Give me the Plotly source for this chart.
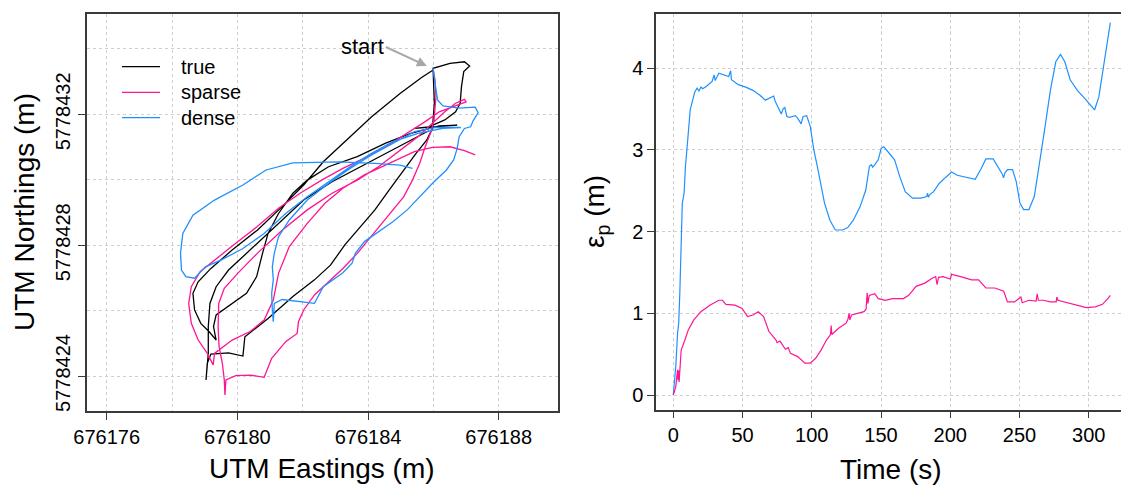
import plotly.graph_objects as go

# ---------------- data: left panel (UTM coordinates, m) ----------------
true_east = [676185.86, 676185.42, 676184.54, 676183.67, 676182.90, 676182.03, 676181.15, 676180.39, 676179.73, 676179.35,
             676179.16, 676179.11, 676179.11, 676179.04,
             676179.08, 676179.19, 676179.73, 676180.17, 676180.23, 676180.94, 676181.70, 676182.36, 676182.85, 676183.29,
             676183.72, 676184.21, 676184.65, 676185.09, 676185.47, 676185.80, 676185.97, 676186.03, 676186.00, 676185.99,
             676186.51, 676186.95, 676187.11, 676186.93, 676186.86, 676186.82, 676186.68, 676186.35, 676185.86, 676185.42,
             676186.73, 676186.18,
             676185.31, 676184.54, 676183.67, 676182.79, 676182.14, 676181.70, 676181.26, 676180.94, 676180.77, 676180.59,
             676180.28, 676179.79, 676179.35, 676179.27, 676179.35,
             676179.13, 676178.88, 676178.69, 676178.64, 676178.80, 676179.19, 676179.84, 676180.61, 676181.37, 676182.03,
             676182.63, 676183.29, 676184.11, 676184.98, 676185.64, 676185.97]
true_north = [5778431.50, 5778431.27, 5778430.79, 5778430.35, 5778429.94, 5778429.38, 5778428.57, 5778427.85, 5778427.24, 5778426.73,
              5778426.22, 5778425.51, 5778424.69, 5778423.88,
              5778424.39, 5778424.67, 5778424.71, 5778424.61, 5778425.20, 5778425.76, 5778426.43, 5778426.94, 5778427.39, 5778428.01,
              5778428.52, 5778429.08, 5778429.69, 5778430.30, 5778430.81, 5778431.22, 5778431.57, 5778432.34, 5778433.05, 5778433.41,
              5778433.56, 5778433.61, 5778433.48, 5778433.31, 5778432.85, 5778432.34, 5778432.08, 5778431.83, 5778431.62, 5778431.57,
              5778431.67, 5778431.65,
              5778431.42, 5778431.12, 5778430.71, 5778430.40, 5778429.99, 5778429.59, 5778428.97, 5778428.36, 5778427.75, 5778427.04,
              5778426.53, 5778426.17, 5778425.87, 5778425.51, 5778425.10,
              5778425.36, 5778425.61, 5778426.02, 5778426.53, 5778426.88, 5778427.29, 5778427.85, 5778428.46, 5778429.18, 5778429.84,
              5778430.55, 5778431.17, 5778431.93, 5778432.64, 5778433.13, 5778433.34]

sparse_east = [676185.99, 676186.05, 676186.08, 676186.02, 676185.91, 676185.75, 676185.58, 676185.36, 676185.09, 676184.76,
               676184.43, 676184.11, 676183.67, 676183.23, 676182.79, 676182.36, 676182.03, 676181.87, 676181.83, 676181.48,
               676181.05, 676180.82, 676180.39, 676179.95, 676179.65, 676179.62,
               676179.60, 676179.54, 676179.44, 676179.41, 676179.43, 676179.60, 676180.01, 676180.61, 676181.37, 676182.14,
               676182.90, 676183.67, 676184.32, 676184.98, 676185.53, 676185.97, 676186.35, 676186.68, 676186.95, 676187.00,
               676186.62,
               676186.18, 676185.75, 676185.20, 676184.54, 676183.89, 676183.23, 676182.58, 676181.92, 676181.26, 676180.61,
               676179.95, 676179.30, 676178.86, 676178.59, 676178.51, 676178.59, 676178.80, 676179.08, 676179.26,
               676179.30, 676179.84, 676180.39, 676180.82, 676181.10, 676181.26, 676181.59, 676182.14, 676182.68, 676183.23,
               676183.89, 676184.65, 676185.42, 676185.97, 676186.51, 676186.95, 676187.28]
sparse_north = [5778433.41, 5778433.05, 5778432.54, 5778431.83, 5778431.42, 5778431.01, 5778430.50, 5778429.99, 5778429.48, 5778429.08,
                5778428.67, 5778428.26, 5778427.75, 5778427.29, 5778426.88, 5778426.48, 5778426.02, 5778425.66, 5778425.30, 5778425.05,
                5778424.54, 5778423.96, 5778424.03, 5778424.01, 5778423.88, 5778423.42,
                5778423.88, 5778424.39, 5778424.90, 5778425.51, 5778426.22, 5778426.68, 5778427.14, 5778427.75, 5778428.46, 5778429.08,
                5778429.59, 5778429.99, 5778430.40, 5778430.91, 5778431.32, 5778431.73, 5778432.08, 5778432.34, 5778432.46, 5778432.38,
                5778432.24,
                5778432.08, 5778431.78, 5778431.42, 5778431.01, 5778430.66, 5778430.35, 5778429.99, 5778429.59, 5778429.13, 5778428.57,
                5778428.06, 5778427.55, 5778427.19, 5778426.73, 5778426.22, 5778425.61, 5778425.10, 5778424.69, 5778424.34,
                5778424.69, 5778425.10, 5778425.36, 5778425.71, 5778426.32, 5778427.14, 5778427.96, 5778428.67, 5778429.28, 5778429.74,
                5778430.15, 5778430.50, 5778430.86, 5778430.99, 5778431.01, 5778430.89, 5778430.76]

dense_east = [676185.99, 676186.02, 676186.08, 676186.13, 676186.29, 676186.79, 676187.28, 676187.37, 676187.22, 676187.14,
              676186.95, 676186.79, 676186.73, 676186.62, 676186.40, 676186.02, 676185.69, 676185.20, 676184.76, 676184.32,
              676183.89, 676183.61, 676183.51, 676183.23, 676182.74, 676182.63, 676182.36, 676181.92, 676181.37, 676181.13,
              676181.10,
              676181.07, 676181.05, 676181.10, 676181.07, 676181.13, 676181.26, 676181.59, 676182.14, 676182.79, 676183.45,
              676184.11, 676184.76, 676185.42, 676186.08, 676186.84,
              676186.29, 676185.53, 676184.76, 676184.11, 676183.45, 676182.79, 676182.14, 676181.48, 676180.82, 676180.17,
              676179.51, 676179.02, 676178.69, 676178.42, 676178.29, 676178.26, 676178.33, 676178.64, 676179.30, 676180.17,
              676180.88, 676181.70, 676183.12, 676184.21, 676184.98, 676185.36]
dense_north = [5778433.41, 5778433.15, 5778432.75, 5778432.44, 5778432.26, 5778432.19, 5778432.22, 5778432.05, 5778431.81, 5778431.62,
               5778431.57, 5778431.32, 5778430.96, 5778430.61, 5778430.30, 5778429.94, 5778429.59, 5778429.08, 5778428.72, 5778428.41,
               5778428.11, 5778427.75, 5778427.45, 5778427.16, 5778426.81, 5778426.73, 5778426.22, 5778426.27, 5778426.34, 5778426.22,
               5778425.66,
               5778426.02, 5778426.53, 5778426.94, 5778427.34, 5778427.75, 5778428.26, 5778428.77, 5778429.38, 5778429.89, 5778430.35,
               5778430.76, 5778431.12, 5778431.47, 5778431.60, 5778431.60,
               5778431.57, 5778431.42, 5778431.17, 5778430.81, 5778430.40, 5778429.94, 5778429.48, 5778428.97, 5778428.36, 5778427.90,
               5778427.55, 5778427.34, 5778426.99, 5778427.04, 5778427.24, 5778427.75, 5778428.36, 5778428.92, 5778429.38, 5778429.84,
               5778430.30, 5778430.52, 5778430.55, 5778430.50, 5778430.45, 5778430.35]

east_ticks = [676176, 676180, 676184, 676188]
east_minor = [676178, 676182, 676186]
north_ticks = [5778424, 5778428, 5778432]
north_minor = [5778426, 5778430, 5778434]

# ---------------- data: right panel (position error over time) ----------------
time_dense = [0, 1.8, 3.1, 3.9, 4.7, 5.7, 6.5, 7.8, 8.8, 10.4,
              12.2, 14.0, 15.5, 17.3, 18.5, 20.0, 21.2, 24.0, 26.4, 28.0,
              29.5, 30.2, 32.9, 36.8, 40.0, 41.4, 42.0, 47.0, 52.3, 57.5,
              62.6, 66.5, 69.0, 71.7, 72.5, 73.5, 74.3, 76.9, 78.0, 79.5,
              80.5, 82.0, 84.0, 86.0, 88.0, 89.8, 91.6, 92.3, 93.7, 96.3,
              98.9, 101.5, 104.0, 106.7, 109.2, 113.1, 117.0, 122.2, 126.0, 130.0,
              135.0, 139.0, 141.6, 143.0, 144.0, 145.5, 146.5, 148.0, 150.1, 152.0,
              155.9, 159.8, 163.6, 167.5, 172.7, 179.0, 183.0, 183.5, 184.3, 185.0,
              188.0, 192.0, 197.0, 201.0, 205.0, 213.0, 218.0, 222.0, 225.7, 231.0,
              233.5, 237.4, 238.5, 239.5, 241.3, 245.0, 247.7, 250.3, 253.0, 256.8,
              260.7, 264.6, 268.5, 272.3, 276.2, 279.6, 282.7, 286.6, 291.8, 298.2,
              304.2, 307.3, 309.9, 312.5, 315.6]
err_dense = [0, 0.35, 0.76, 0.88, 1.24, 1.98, 2.35, 2.47, 2.80, 3.12,
             3.49, 3.61, 3.71, 3.76, 3.72, 3.77, 3.75, 3.78, 3.82, 3.84,
             3.92, 3.85, 3.94, 3.92, 3.90, 3.97, 3.86, 3.80, 3.77, 3.73,
             3.67, 3.61, 3.63, 3.65, 3.66, 3.60, 3.57, 3.49, 3.44, 3.51,
             3.52, 3.41, 3.40, 3.41, 3.42, 3.39, 3.33, 3.32, 3.41, 3.42,
             3.29, 3.00, 2.80, 2.55, 2.35, 2.14, 2.02, 2.02, 2.05, 2.14,
             2.31, 2.51, 2.80, 2.82, 2.79, 2.82, 2.84, 2.88, 3.02, 3.04,
             2.96, 2.88, 2.67, 2.49, 2.41, 2.41, 2.43, 2.47, 2.42, 2.45,
             2.49, 2.59, 2.67, 2.73, 2.69, 2.66, 2.64, 2.76, 2.89, 2.89,
             2.82, 2.71, 2.66, 2.72, 2.76, 2.76, 2.61, 2.35, 2.27, 2.27,
             2.43, 2.84, 3.29, 3.73, 4.08, 4.17, 4.08, 3.86, 3.73, 3.61,
             3.49, 3.65, 3.94, 4.27, 4.56]

time_sparse = [0, 1.8, 3.1, 3.5, 3.9, 4.2, 5.7, 7.0, 8.3, 10.9,
               14.8, 19.9, 26.4, 32.9, 35.5, 38.0, 44.5, 49.7, 53.6, 57.5,
               61.4, 65.2, 69.0, 74.3, 75.0, 77.0, 79.5, 81.0, 83.0, 84.6,
               89.8, 95.0, 98.9, 102.8, 106.7, 110.5, 113.5, 114.0, 114.5, 115.7,
               119.6, 124.8, 126.0, 127.0, 127.5, 128.7, 133.8, 137.7, 139.2, 140.0,
               140.5, 141.5, 145.5, 148.0, 153.2, 158.4, 166.2, 170.0, 175.3, 181.7,
               186.9, 189.5, 190.5, 191.5, 194.7, 200.0, 201.0, 202.4, 207.6, 215.4,
               220.5, 225.7, 232.2, 238.6, 241.3, 246.4, 251.0, 252.0, 256.8, 262.0,
               262.8, 263.6, 267.2, 272.3, 276.5, 277.0, 277.8, 282.7, 290.4, 298.2,
               304.7, 309.9, 313.8, 315.6]
err_sparse = [0, 0.10, 0.31, 0.18, 0.30, 0.16, 0.55, 0.60, 0.67, 0.80,
              0.92, 1.02, 1.10, 1.16, 1.16, 1.11, 1.10, 1.06, 0.96, 0.98,
              1.02, 0.96, 0.78, 0.67, 0.64, 0.66, 0.59, 0.56, 0.58, 0.51,
              0.47, 0.39, 0.39, 0.45, 0.55, 0.67, 0.74, 0.85, 0.74, 0.76,
              0.82, 0.88, 0.92, 1.00, 0.92, 0.98, 1.00, 1.02, 1.05, 1.25,
              1.12, 1.22, 1.24, 1.18, 1.16, 1.18, 1.18, 1.22, 1.33, 1.37,
              1.43, 1.45, 1.35, 1.44, 1.45, 1.42, 1.48, 1.47, 1.45, 1.41,
              1.41, 1.31, 1.31, 1.27, 1.14, 1.14, 1.20, 1.13, 1.16, 1.15,
              1.24, 1.16, 1.16, 1.14, 1.14, 1.20, 1.16, 1.14, 1.10, 1.07,
              1.08, 1.11, 1.18, 1.22]
time_ticks = [0, 50, 100, 150, 200, 250, 300]
err_ticks = [0, 1, 2, 3, 4]

# ---------------- styling ----------------
W, H = 1121, 486
C_TRUE, C_SPARSE, C_DENSE = "#000000", "#FF1493", "#1E90FF"
FONT = "Liberation Sans, Arial, sans-serif"
LINE = "#3a3a3a"
GRID = "#CFCFCF"

fig = go.Figure()
fig.add_trace(go.Scatter(x=true_east, y=true_north, mode="lines", name="true",
                         line=dict(color=C_TRUE, width=1.3), xaxis="x", yaxis="y", showlegend=False))
fig.add_trace(go.Scatter(x=sparse_east, y=sparse_north, mode="lines", name="sparse",
                         line=dict(color=C_SPARSE, width=1.3), xaxis="x", yaxis="y", showlegend=False))
fig.add_trace(go.Scatter(x=dense_east, y=dense_north, mode="lines", name="dense",
                         line=dict(color=C_DENSE, width=1.3), xaxis="x", yaxis="y", showlegend=False))
fig.add_trace(go.Scatter(x=time_dense, y=err_dense, mode="lines", name="dense",
                         line=dict(color=C_DENSE, width=1.2), xaxis="x2", yaxis="y2", showlegend=False))
fig.add_trace(go.Scatter(x=time_sparse, y=err_sparse, mode="lines", name="sparse",
                         line=dict(color=C_SPARSE, width=1.2), xaxis="x2", yaxis="y2", showlegend=False))

common = dict(showline=True, linecolor=LINE, linewidth=1.5, ticks="outside", ticklen=7, tickwidth=1,
              tickcolor=LINE, showgrid=True, gridcolor=GRID, gridwidth=1, griddash="dot", zeroline=False,
              tickfont=dict(size=20, color="black", family=FONT), tickmode="array", automargin=False)


def px_x(p):
    return p / W


def px_y(p):
    return 1 - p / H


fig.update_layout(
    width=W, height=H, margin=dict(l=0, r=0, t=0, b=0, pad=0, autoexpand=False),
    paper_bgcolor="white", plot_bgcolor="white",
    font=dict(family=FONT, color="black"),
    xaxis=dict(domain=[px_x(86.7), px_x(558)], range=[676175.388, 676189.815], anchor="y",
               tickvals=east_ticks, ticktext=[str(v) for v in east_ticks], mirror=True,
               minor=dict(tickmode="array", tickvals=east_minor, showgrid=True, gridcolor=GRID,
                          griddash="dot", gridwidth=1, ticks=""), **common),
    yaxis=dict(domain=[px_y(411), px_y(14)], range=[5778422.93, 5778435.07], anchor="x",
               tickvals=north_ticks, ticktext=[str(v) for v in north_ticks], mirror=True, tickangle=-90,
               minor=dict(tickmode="array", tickvals=north_minor, showgrid=True, gridcolor=GRID,
                          griddash="dot", gridwidth=1, ticks=""), **common),
    xaxis2=dict(domain=[px_x(656), 1.0], range=[-12.49, 323.3], anchor="y2",
                tickvals=time_ticks, ticktext=[str(v) for v in time_ticks], mirror=True, **common),
    yaxis2=dict(domain=[px_y(409.5), px_y(13.5)], range=[-0.1775, 4.671], anchor="x2",
                tickvals=err_ticks, ticktext=[str(v) for v in err_ticks], mirror=False, **common),
)

ann = []
# axis titles
ann.append(dict(text="UTM Eastings (m)", x=px_x(322), y=px_y(468), xref="paper", yref="paper",
                showarrow=False, font=dict(size=28), xanchor="center", yanchor="middle"))
ann.append(dict(text="UTM Northings (m)", x=px_x(24), y=px_y(212), xref="paper", yref="paper",
                showarrow=False, font=dict(size=28), textangle=-90, xanchor="center", yanchor="middle"))
ann.append(dict(text="Time (s)", x=px_x(891), y=px_y(469), xref="paper", yref="paper",
                showarrow=False, font=dict(size=28), xanchor="center", yanchor="middle"))
ann.append(dict(text="ε<sub>p</sub> (m)", x=px_x(596), y=px_y(212), xref="paper", yref="paper",
                showarrow=False, font=dict(size=28), textangle=-90, xanchor="center", yanchor="middle"))
# "start" label with its grey arrow pointing at the starting position
ann.append(dict(text="start", x=676185.80, y=5778433.48, xref="x", yref="y", showarrow=True,
                ax=-41, ay=-19, xanchor="right", yanchor="middle",
                arrowcolor="#A8A8A8", arrowwidth=2, arrowhead=2, arrowsize=1, standoff=0,
                font=dict(size=22)))

# manual legend
legend_names = ["true", "sparse", "dense"]
legend_colors = [C_TRUE, C_SPARSE, C_DENSE]
legend_rows = [66.7, 92.3, 117.7]
shapes = []
for name, col, row in zip(legend_names, legend_colors, legend_rows):
    shapes.append(dict(type="line", xref="paper", yref="paper", x0=px_x(122), x1=px_x(160),
                       y0=px_y(row), y1=px_y(row), line=dict(color=col, width=1.3)))
    ann.append(dict(text=name, x=px_x(179), y=px_y(row), xref="paper", yref="paper", showarrow=False,
                    font=dict(size=20), xanchor="left", yanchor="middle"))

fig.update_layout(annotations=ann, shapes=shapes)

fig.write_html("out.html", config={"displayModeBar": False})
